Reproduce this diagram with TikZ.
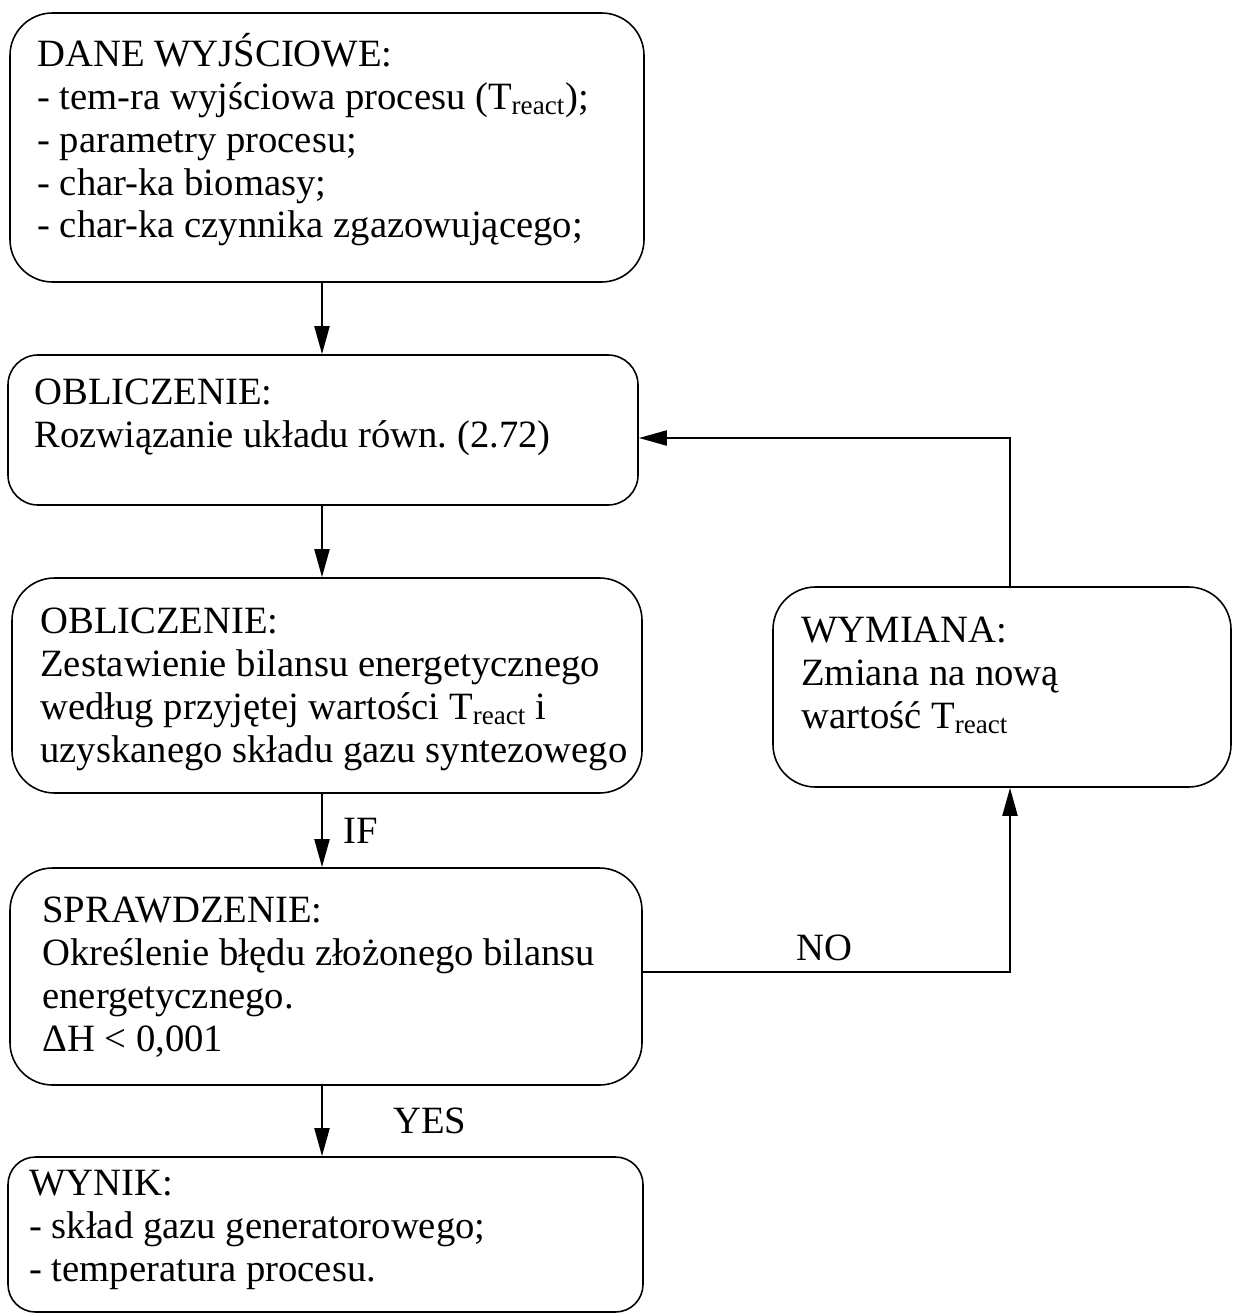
\documentclass[tikz,border=0pt]{standalone}
\usepackage{fontspec}
\setmainfont{Liberation Serif}
\usetikzlibrary{arrows.meta,fit}
\frenchspacing

\tikzset{
  box/.style={draw, line width=0.9pt, rounded corners=#1, inner sep=0pt},
  box/.default=0.85cm,
  txt/.style={anchor=base west, align=left, inner sep=0pt,
              font=\fontsize{22}{24.4}\selectfont},
  lbl/.style={inner sep=0pt, font=\fontsize{22}{24.4}\selectfont},
  flow/.style={line width=1.4pt, -{Triangle[length=16pt,width=8.5pt]}}
}
\newcommand{\Tr}{T\textsubscript{react}}

\begin{document}
\begin{tikzpicture}[x=0.02cm,y=-0.02cm]
\useasboundingbox (0,0) rectangle (1233,1314);
%
\node[box, fit={(10,13) (644,282)}] (dane) {};
\node[box=0.6cm, fit={(8,355) (638,505)}] (obl1) {};
\node[box, fit={(12,578) (642,793)}] (obl2) {};
\node[box, fit={(10,868) (642,1085)}] (spr) {};
\node[box=0.55cm, fit={(8,1157) (643,1312)}] (wynik) {};
\node[box, fit={(773,587) (1231,787)}] (wym) {};
%
% anchor base west = baseline of the last line
\node[txt] (dane-t) at (37,238) {DANE WYJŚCIOWE:\\
  - tem-ra wyjściowa procesu (\Tr);\\
  - parametry procesu;\\
  - char-ka biomasy;\\
  - char-ka czynnika zgazowującego;};
\node[txt] (obl1-t) at (34,447) {OBLICZENIE:\\
  Rozwiązanie układu równ. (2.72)};
\node[txt] (obl2-t) at (40,762) {OBLICZENIE:\\
  Zestawienie bilansu energetycznego\\
  według przyjętej wartości \Tr{} i\\
  uzyskanego składu gazu syntezowego};
\node[txt] (spr-t) at (42,1051) {SPRAWDZENIE:\\
  Określenie błędu złożonego bilansu\\
  energetycznego.\\
  ΔH < 0,001};
\node[txt] (wynik-t) at (29,1281) {WYNIK:\\
  - skład gazu generatorowego;\\
  - temperatura procesu.};
\node[txt] (wym-t) at (801,728) {WYMIANA:\\
  Zmiana na nową\\
  wartość \Tr};
%
\coordinate (ax) at (322,0);
\coordinate (lx) at (1010,0);
\coordinate (back) at (0,438);
\coordinate (no) at (0,972);
%
\draw[flow] (dane.south -| ax) -- (obl1.north -| ax);
\draw[flow] (obl1.south -| ax) -- (obl2.north -| ax);
\draw[flow] (obl2.south -| ax) -- node[lbl, right=0.4cm] (if) {IF} (spr.north -| ax);
\draw[flow] (spr.south -| ax) -- node[lbl, right=1.4cm] (yes) {YES} (wynik.north -| ax);
\draw[flow] (spr.east |- no) -| node[lbl, pos=0.247, above=0.2cm] (nolbl) {NO} (wym.south -| lx);
\draw[flow] (wym.north -| lx) |- (obl1.east |- back);
\end{tikzpicture}
\end{document}
